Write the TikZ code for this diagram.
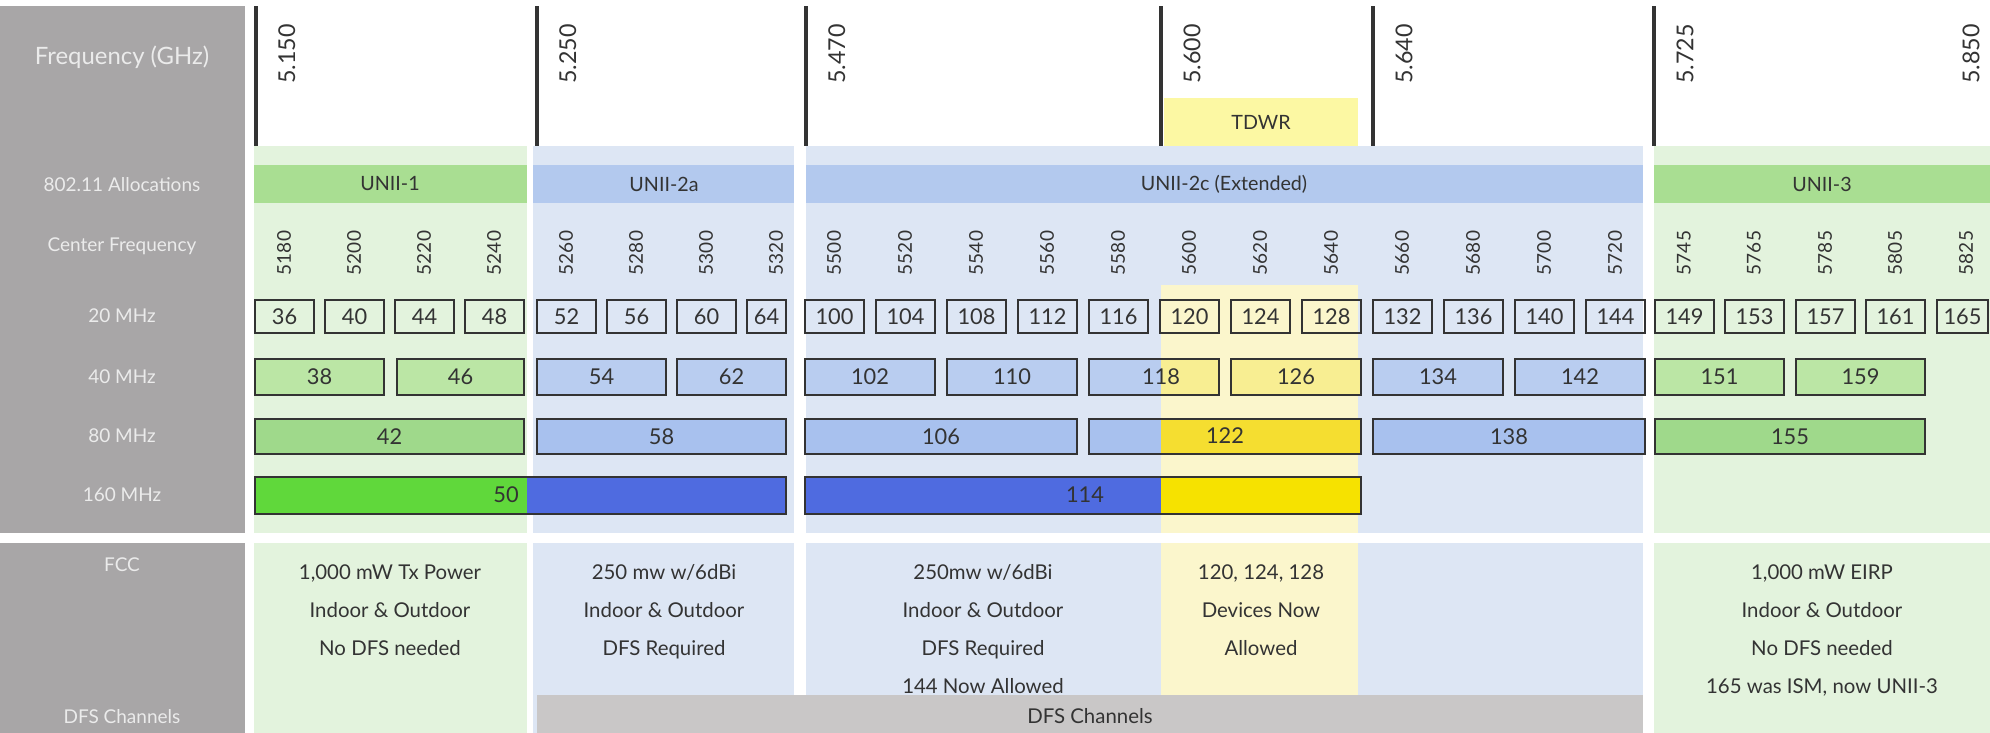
\documentclass[tikz,border=0pt]{standalone}
\usepackage{fontspec}
\setsansfont{Lato}
\usetikzlibrary{positioning}
\definecolor{sidegray}{HTML}{A8A6A7}
\definecolor{dfsgray}{HTML}{C9C7C7}
\definecolor{bggreen}{HTML}{E3F3DD}
\definecolor{bgblue}{HTML}{DDE6F4}
\definecolor{bgyellow}{HTML}{FBF6CC}
\definecolor{algreen}{HTML}{A9DE92}
\definecolor{alblue}{HTML}{B3C9EE}
\definecolor{fgreen}{HTML}{BBE6A5}
\definecolor{fblue}{HTML}{B9CDF0}
\definecolor{fyellow}{HTML}{F8EE92}
\definecolor{egreen}{HTML}{9FD98B}
\definecolor{eblue}{HTML}{A8C1EE}
\definecolor{eyellow}{HTML}{F5DE30}
\definecolor{sgreen}{HTML}{60D83B}
\definecolor{sblue}{HTML}{4F6BE0}
\definecolor{syellow}{HTML}{F6E200}
\definecolor{ink}{HTML}{333333}
\tikzset{>=latex}
% box from x #2 to #3, y #4 to #5
\newcommand\chbox[7]{%
  \node[chan,fill=#6,minimum width={(#3-#2)*0.01cm},minimum height={(#5-#4)*0.01cm}]
    (#1) at ({(#2+#3)/2},{(#4+#5)/2}) {#7};}
\begin{document}
\begin{tikzpicture}[x=0.01cm, y=-0.01cm, font=\sffamily,
    chan/.style={draw=ink, line width=0.7pt, inner sep=0, text=ink, font=\sffamily\fontsize{6.2}{7}\selectfont},
    rowlab/.style={text=white!92!black, font=\sffamily\fontsize{5.4}{6}\selectfont},
    ghz/.style={rotate=90, anchor=north east, text=ink, font=\sffamily\fontsize{6.6}{7}\selectfont},
    cfreq/.style={rotate=90, text=ink, font=\sffamily\fontsize{5.4}{6}\selectfont},
    alloc/.style={inner sep=0, text=ink, font=\sffamily\fontsize{5.6}{6}\selectfont},
    fcc/.style={align=center, text=ink, font=\sffamily\fontsize{5.8}{10.8}\selectfont}]
  \useasboundingbox (0,0) rectangle (1990,733);

  % side column and backgrounds
  \fill[sidegray] (0,6) rectangle (245,533);
  \fill[sidegray] (0,543) rectangle (245,733);
  \fill[bggreen] (254,146) rectangle (527,733);
  \fill[bgblue]  (533,146) rectangle (794,733);
  \fill[bgblue]  (806,146) rectangle (1643,733);
  \fill[bggreen] (1654,146) rectangle (1990,733);
  \fill[white] (245,533) rectangle (1990,543);
  \fill[bgyellow] (1161,285) rectangle (1358,533);
  \fill[bgyellow] (1161,543) rectangle (1358,695);
  \fill[dfsgray] (537,695) rectangle (1643,733);

  % row labels
  \node[rowlab,font=\sffamily\fontsize{6.8}{7}\selectfont] (lfreq) at (122,57) {Frequency (GHz)};
  \node[rowlab] (lalloc) at (122,185) {802.11 Allocations};
  \node[rowlab] (lcent)  at (122,246) {Center Frequency};
  \node[rowlab] (l20)    at (122,316) {20 MHz};
  \node[rowlab] (l40)    at (122,377) {40 MHz};
  \node[rowlab] (l80)    at (122,436) {80 MHz};
  \node[rowlab] (l160)   at (122,495) {160 MHz};
  \node[rowlab] (lfcc)   at (122,565) {FCC};
  \node[rowlab] (ldfs)   at (122,717) {DFS Channels};

  % frequency marks
  \foreach \x/\f in {256/5.150,537/5.250,806/5.470,1161/5.600,1373/5.640,1654/5.725}{
    \coordinate (t\x) at (\x,6);
    \draw[line width=1pt,ink] (t\x) -- ++(0,140);
    \node[ghz] (g\x) at (\x+10,12) {\f};
  }
  \node[ghz] (g1950) at (1950,12) {5.850};
  \node[fill=bgyellow!80!yellow, minimum width=1.93cm, minimum height=0.47cm, alloc] (tdwr) at (1261,122) {TDWR};

  % allocations
  \fill[algreen] (254,165) rectangle (527,203);
  \fill[alblue]  (533,165) rectangle (794,203);
  \fill[alblue]  (806,165) rectangle (1643,203);
  \fill[algreen] (1654,165) rectangle (1990,203);
  \node[alloc] (unii1)  at (390,184) {UNII-1};
  \node[alloc] (unii2a) at (664,184) {UNII-2a};
  \node[alloc] (unii2c) at (1224,184) {UNII-2c (Extended)};
  \node[alloc] (unii3)  at (1822,184) {UNII-3};

  % 20 MHz channels and center frequencies
  \foreach \c/\x/\w/\f in {36/255/59/5180,40/325/59/5200,44/395/59/5220,48/465/59/5240,
      52/537/59/5260,56/607/59/5280,60/677/59/5300,64/747/39/5320,
      100/805/59/5500,104/876/59/5520,108/947/59/5540,112/1018/59/5560,116/1089/59/5580,
      120/1160/59/5600,124/1231/59/5620,128/1302/59/5640,132/1373/59/5660,136/1444/59/5680,
      140/1515/59/5700,144/1586/59/5720,
      149/1655/59/5745,153/1725/59/5765,157/1796/59/5785,161/1866/59/5805,165/1937/51/5825}{
    \chbox{c\c}{\x}{\x+\w}{300}{333}{none}{\c}
    \node[cfreq] (f\f) at (\x+29,253) {\f};
  }

  % 40 MHz
  \foreach \c/\xa/\xb/\col in {38/255/384/fgreen,46/397/524/fgreen,54/537/666/fblue,62/677/786/fblue,
      102/805/935/fblue,110/947/1077/fblue,126/1231/1361/fyellow,134/1373/1503/fblue,
      142/1515/1645/fblue,151/1655/1784/fgreen,159/1796/1925/fgreen}{
    \chbox{d\c}{\xa}{\xb}{359}{395}{\col}{\c}
  }
  \fill[fblue] (1089,359) rectangle (1161,395);
  \fill[fyellow] (1161,359) rectangle (1219,395);
  \chbox{d118}{1089}{1219}{359}{395}{none}{}
  \node[chan,draw=none] (n118) at (1161,377) {118};

  % 80 MHz
  \foreach \c/\xa/\xb/\col in {42/255/524/egreen,58/537/786/eblue,106/805/1077/eblue,
      138/1373/1645/eblue,155/1655/1925/egreen}{
    \chbox{e\c}{\xa}{\xb}{419}{454}{\col}{\c}
  }
  \fill[eblue] (1089,419) rectangle (1161,454);
  \fill[eyellow] (1161,419) rectangle (1361,454);
  \chbox{e122}{1089}{1361}{419}{454}{none}{}
  \node[chan,draw=none] (n122) at (1225,436) {122};

  % 160 MHz
  \fill[sgreen] (255,477) rectangle (527,514);
  \fill[sblue] (527,477) rectangle (786,514);
  \chbox{s50}{255}{786}{477}{514}{none}{}
  \node[chan,draw=none,anchor=east] (n50) at (520,495) {50};
  \fill[sblue] (805,477) rectangle (1161,514);
  \fill[syellow] (1161,477) rectangle (1361,514);
  \chbox{s114}{805}{1361}{477}{514}{none}{}
  \node[chan,draw=none] (n114) at (1085,495) {114};

  % FCC rules
  \node[fcc,anchor=north] (r1) at (390,552) {1,000 mW Tx Power\\Indoor \& Outdoor\\No DFS needed};
  \node[fcc,anchor=north] (r2) at (664,552) {250 mw w/6dBi\\Indoor \& Outdoor\\DFS Required};
  \node[fcc,anchor=north] (r3) at (983,552) {250mw w/6dBi\\Indoor \& Outdoor\\DFS Required\\144 Now Allowed};
  \node[fcc,anchor=north] (r4) at (1261,552) {120, 124, 128\\Devices Now\\Allowed};
  \node[fcc,anchor=north] (r5) at (1822,552) {1,000 mW EIRP\\Indoor \& Outdoor\\No DFS needed\\165 was ISM, now UNII-3};
  \node[fcc] (dfs) at (1090,716) {DFS Channels};
\end{tikzpicture}
\end{document}
